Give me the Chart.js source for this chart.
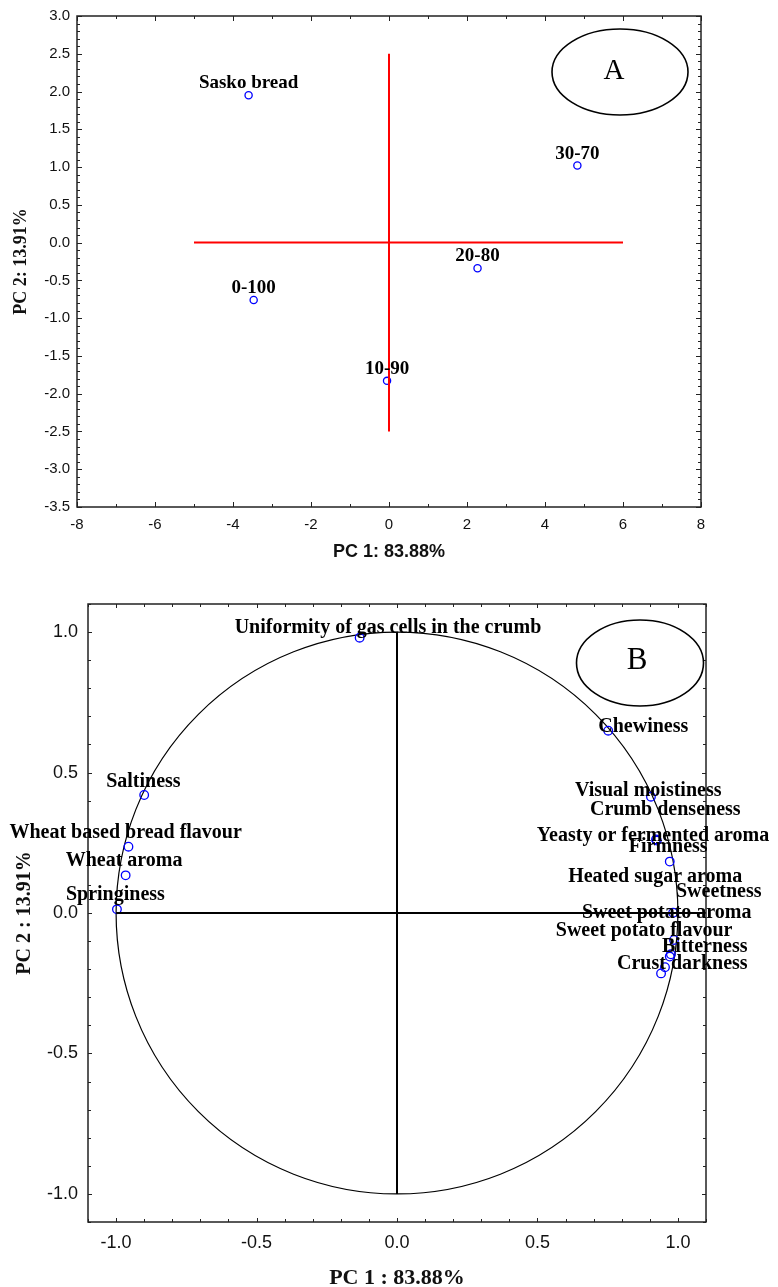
<!DOCTYPE html>
<html><head><meta charset="utf-8">
<script src="https://cdn.jsdelivr.net/npm/chart.js@4.4.0/dist/chart.umd.min.js"></script>
<style>
html,body{margin:0;padding:0;background:#fff;}
#c1{position:absolute;left:0;top:0;}
#c2{position:absolute;left:0;top:575px;}
</style></head><body>
<canvas id="c1" width="778" height="575"></canvas>
<canvas id="c2" width="778" height="712"></canvas>
<script>
// ---------- Data: panel A (scores) ----------
const sampleNames = ['Sasko bread', '0-100', '10-90', '20-80', '30-70'];
const samplePC1 = [-3.60, -3.47, -0.05, 2.27, 4.83];
const samplePC2 = [1.95, -0.76, -1.83, -0.34, 1.02];
const crossHorizPC1 = [-5, 6];
const crossHorizPC2 = [0, 0];
const crossVertPC1 = [0, 0];
const crossVertPC2 = [2.5, -2.5];
const scoreXTicks = [-8, -6, -4, -2, 0, 2, 4, 6, 8];
const scoreYTicks = [3.0, 2.5, 2.0, 1.5, 1.0, 0.5, 0.0, -0.5, -1.0, -1.5, -2.0, -2.5, -3.0, -3.5];

// ---------- Data: panel B (loadings) ----------
const attrNames = [
  'Uniformity of gas cells in the crumb', 'Saltiness', 'Wheat based bread flavour', 'Wheat aroma',
  'Springiness', 'Chewiness', 'Visual moistiness', 'Crumb denseness', 'Yeasty or fermented aroma',
  'Firmness', 'Heated sugar aroma', 'Sweetness', 'Sweet potato aroma', 'Sweet potato flavour',
  'Bitterness', 'Crust darkness'
];
const attrPC1 = [-0.133, -0.900, -0.956, -0.966, -0.997, 0.752, 0.904, 0.922, 0.925, 0.971, 0.983, 0.986, 0.975, 0.971, 0.954, 0.940];
const attrPC2 = [0.980, 0.420, 0.236, 0.134, 0.013, 0.649, 0.414, 0.262, 0.258, 0.183, 0.001, -0.096, -0.147, -0.155, -0.193, -0.215];
const axisHorizPC1 = [-1, 1.1];
const axisHorizPC2 = [0, 0];
const axisVertPC1 = [0, 0];
const axisVertPC2 = [1, -1];
const loadXTicks = [-1.0, -0.5, 0.0, 0.5, 1.0];
const loadYTicks = [1.0, 0.5, 0.0, -0.5, -1.0];

// ---------- Styles (label placement, pixels) ----------
const attrLabelOffsets = [
  [-125, -5], [-38, -8], [-119, -9], [-60, -9], [-51, -9], [-10, 1], [-76, -1], [-66, -24],
  [-120, 0.5], [-41, -10], [-105, -31], [2, -43], [-89, -36], [-114, -21], [-3, -15.5], [-44, -4]
];

const SANS = '"Liberation Sans", Arial, sans-serif';
const SERIF = '"Liberation Serif", "Times New Roman", serif';

function pts(xs, ys) { return xs.map((x, i) => ({x: x, y: ys[i]})); }

const framePlugin = {
  id: 'frame',
  afterDraw(chart, args, o) {
    const {ctx, chartArea: a, scales} = chart;
    ctx.save();
    ctx.strokeStyle = '#222';
    ctx.lineWidth = 1.5;
    ctx.strokeRect(a.left, a.top, a.right - a.left, a.bottom - a.top);
    ctx.lineWidth = 1;
    const xs = scales.x, ys = scales.y;
    const eps = 1e-9;
    // x ticks
    for (let v = xs.min; v <= xs.max + eps; v += o.xMinor) {
      const vv = Math.round(v / o.xMinor) * o.xMinor;
      const px = Math.round(xs.getPixelForValue(vv)) + 0.5;
      const major = Math.abs(vv / o.xMajor - Math.round(vv / o.xMajor)) < 1e-6;
      const len = major ? o.majorLen : o.minorLen;
      ctx.beginPath();
      ctx.moveTo(px, a.bottom + (major ? o.majorOut : 0)); ctx.lineTo(px, a.bottom - len);
      ctx.moveTo(px, a.top - (major ? o.majorOut : 0)); ctx.lineTo(px, a.top + len);
      ctx.stroke();
    }
    for (let v = ys.min; v <= ys.max + eps; v += o.yMinor) {
      const vv = Math.round(v / o.yMinor) * o.yMinor;
      const py = Math.round(ys.getPixelForValue(vv)) + 0.5;
      const major = Math.abs(vv / o.yMajor - Math.round(vv / o.yMajor)) < 1e-6;
      const len = major ? o.majorLen : o.minorLen;
      ctx.beginPath();
      ctx.moveTo(a.left - (major ? o.majorOut : 0), py); ctx.lineTo(a.left + len, py);
      ctx.moveTo(a.right + (major ? o.majorOut : 0), py); ctx.lineTo(a.right - len, py);
      ctx.stroke();
    }
    ctx.restore();
  }
};

const labelPlugin = {
  id: 'ptLabels',
  afterDraw(chart, args, o) {
    const {ctx} = chart;
    const meta = chart.getDatasetMeta(o.datasetIndex);
    ctx.save();
    ctx.font = o.font;
    ctx.fillStyle = '#000';
    ctx.textBaseline = 'alphabetic';
    meta.data.forEach((el, i) => {
      const name = o.names[i];
      if (o.mode === 'center') {
        ctx.textAlign = 'center';
        ctx.fillText(name, el.x, el.y - o.gap);
      } else {
        ctx.textAlign = 'left';
        const off = o.offsets[i];
        ctx.fillText(name, el.x + off[0], el.y + off[1]);
      }
    });
    ctx.restore();
  }
};

const tagPlugin = {
  id: 'tag',
  afterDraw(chart, args, o) {
    const {ctx} = chart;
    ctx.save();
    ctx.strokeStyle = '#000';
    ctx.lineWidth = 1.6;
    ctx.beginPath();
    ctx.ellipse(o.cx, o.cy, o.rx, o.ry, 0, 0, Math.PI * 2);
    ctx.stroke();
    ctx.fillStyle = '#000';
    ctx.font = o.font;
    ctx.textAlign = 'center';
    ctx.textBaseline = 'middle';
    ctx.fillText(o.text, o.tx, o.ty);
    ctx.restore();
  }
};

const unitCirclePlugin = {
  id: 'unitCircle',
  beforeDatasetsDraw(chart) {
    const {ctx, scales: {x, y}} = chart;
    const cx = x.getPixelForValue(0), cy = y.getPixelForValue(0);
    const rx = x.getPixelForValue(1) - cx, ry = cy - y.getPixelForValue(1);
    ctx.save();
    ctx.strokeStyle = '#000';
    ctx.lineWidth = 1.2;
    ctx.beginPath();
    ctx.ellipse(cx, cy, rx, ry, 0, 0, Math.PI * 2);
    ctx.stroke();
    ctx.restore();
  }
};

function fixed(n) { return (v) => Number(v).toFixed(n); }

// ---------- Panel A ----------
new Chart(document.getElementById('c1'), {
  type: 'scatter',
  data: {
    datasets: [
      {data: pts(crossHorizPC1, crossHorizPC2), showLine: true, borderColor: '#ff0000', borderWidth: 2, pointRadius: 0},
      {data: pts(crossVertPC1, crossVertPC2), showLine: true, borderColor: '#ff0000', borderWidth: 2, pointRadius: 0},
      {data: pts(samplePC1, samplePC2), showLine: false, pointRadius: 3.6, pointBorderColor: '#0000ff',
       pointBackgroundColor: 'rgba(0,0,0,0)', pointBorderWidth: 1.3}
    ]
  },
  options: {
    responsive: false, animation: false, devicePixelRatio: 1,
    layout: {padding: {left: 0, top: 15, right: 77, bottom: 0}},
    plugins: {
      legend: {display: false}, tooltip: {enabled: false},
      frame: {xMinor: 1, xMajor: 2, yMinor: 0.1, yMajor: 0.5, minorLen: 3, majorLen: 5, majorOut: 0},
      ptLabels: {datasetIndex: 2, names: sampleNames, mode: 'center', gap: 7, font: 'bold 19px ' + SERIF},
      tag: {cx: 620, cy: 72, rx: 68, ry: 43, text: 'A', tx: 614, ty: 71, font: '29px ' + SERIF}
    },
    scales: {
      x: {
        type: 'linear', min: -8, max: 8,
        afterBuildTicks(s) { s.ticks = scoreXTicks.map(v => ({value: v})); },
        afterFit(s) { s.height = 68; },
        grid: {display: false, drawTicks: false}, border: {display: false},
        ticks: {font: {family: SANS, size: 15}, color: '#111', padding: 9, callback: fixed(0), maxRotation: 0, autoSkip: false},
        title: {display: true, text: 'PC 1: 83.88%', color: '#111', font: {family: SANS, size: 18, weight: 'bold'}, padding: {top: 0, bottom: 12.5}}
      },
      y: {
        type: 'linear', min: -3.5, max: 3.0,
        afterBuildTicks(s) { s.ticks = scoreYTicks.map(v => ({value: v})); },
        afterFit(s) { s.width = 77; },
        grid: {display: false, drawTicks: false}, border: {display: false},
        ticks: {font: {family: SANS, size: 15}, color: '#111', padding: 7, callback: fixed(1), autoSkip: false},
        title: {display: true, text: 'PC 2: 13.91%', color: '#111', font: {family: SERIF, size: 18, weight: 'bold'}, padding: {top: 11, bottom: 0}}
      }
    }
  },
  plugins: [framePlugin, labelPlugin, tagPlugin]
});

// ---------- Panel B ----------
new Chart(document.getElementById('c2'), {
  type: 'scatter',
  data: {
    datasets: [
      {data: pts(axisHorizPC1, axisHorizPC2), showLine: true, borderColor: '#000', borderWidth: 2, pointRadius: 0},
      {data: pts(axisVertPC1, axisVertPC2), showLine: true, borderColor: '#000', borderWidth: 2, pointRadius: 0},
      {data: pts(attrPC1, attrPC2), showLine: false, pointRadius: 4.3, pointBorderColor: '#0000ff',
       pointBackgroundColor: 'rgba(0,0,0,0)', pointBorderWidth: 1.3}
    ]
  },
  options: {
    responsive: false, animation: false, devicePixelRatio: 1,
    layout: {padding: {left: 0, top: 29, right: 72, bottom: 0}},
    plugins: {
      legend: {display: false}, tooltip: {enabled: false},
      frame: {xMinor: 0.1, xMajor: 0.5, yMinor: 0.1, yMajor: 0.5, minorLen: 3, majorLen: 4, majorOut: 0},
      ptLabels: {datasetIndex: 2, names: attrNames, mode: 'offset', offsets: attrLabelOffsets, font: 'bold 20px ' + SERIF},
      tag: {cx: 640, cy: 88, rx: 63.5, ry: 43, text: 'B', tx: 637, ty: 86, font: '31px ' + SERIF}
    },
    scales: {
      x: {
        type: 'linear', min: -1.1, max: 1.1,
        afterBuildTicks(s) { s.ticks = loadXTicks.map(v => ({value: v})); },
        afterFit(s) { s.height = 65; },
        grid: {display: false, drawTicks: false}, border: {display: false},
        ticks: {font: {family: SANS, size: 18}, color: '#111', padding: 10, callback: fixed(1), maxRotation: 0, autoSkip: false},
        title: {display: true, text: 'PC 1 : 83.88%', color: '#111', font: {family: SERIF, size: 22, weight: 'bold', lineHeight: 0.8}, padding: {top: 0, bottom: 0}}
      },
      y: {
        type: 'linear', min: -1.1, max: 1.1,
        afterBuildTicks(s) { s.ticks = loadYTicks.map(v => ({value: v})); },
        afterFit(s) { s.width = 88; },
        grid: {display: false, drawTicks: false}, border: {display: false},
        ticks: {font: {family: SANS, size: 18}, color: '#111', padding: 10, callback: fixed(1), autoSkip: false},
        title: {display: true, text: 'PC 2 : 13.91%', color: '#111', font: {family: SERIF, size: 20, weight: 'bold'}, padding: {top: 13, bottom: 0}}
      }
    }
  },
  plugins: [unitCirclePlugin, framePlugin, labelPlugin, tagPlugin]
});
</script>
</body></html>
